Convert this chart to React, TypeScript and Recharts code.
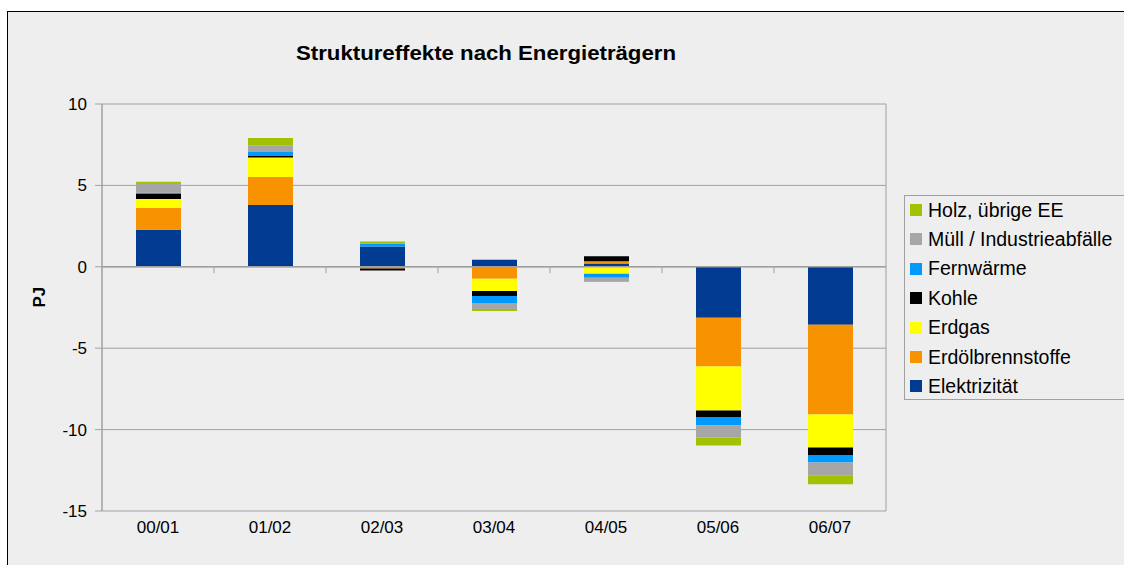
import { BarChart, Bar, XAxis, YAxis, CartesianGrid, ReferenceLine, Legend } from 'recharts';

const periods = ['00/01', '01/02', '02/03', '03/04', '04/05', '05/06', '06/07'];

const elektrizitaet = [2.27, 3.8, 1.25, 0.43, 0.2, -3.13, -3.56];
const erdoel = [1.35, 1.72, -0.1, -0.74, 0.14, -3.0, -5.52];
const erdgas = [0.55, 1.2, 0, -0.74, -0.42, -2.7, -2.02];
const kohle = [0.33, 0.08, -0.12, -0.31, 0.31, -0.43, -0.49];
const fernwaerme = [0.05, 0.25, 0.18, -0.43, -0.25, -0.47, -0.43];
const muell = [0.6, 0.41, 0, -0.37, -0.22, -0.75, -0.78];
const holz = [0.08, 0.45, 0.12, -0.12, -0.05, -0.49, -0.55];

const yTicks = [-15, -10, -5, 0, 5, 10];

const SERIES = [
  { key: 'Elektrizität', values: elektrizitaet, color: '#003a91' },
  { key: 'Erdölbrennstoffe', values: erdoel, color: '#f79200' },
  { key: 'Erdgas', values: erdgas, color: '#ffff00' },
  { key: 'Kohle', values: kohle, color: '#000000' },
  { key: 'Fernwärme', values: fernwaerme, color: '#0099ff' },
  { key: 'Müll / Industrieabfälle', values: muell, color: '#a6a6a6' },
  { key: 'Holz, übrige EE', values: holz, color: '#a3c100' },
];

const data = periods.map((p, i) => {
  const row: Record<string, string | number> = { name: p };
  SERIES.forEach((s) => { row[s.key] = s.values[i]; });
  return row;
});

const FONT = '"Liberation Sans", Arial, sans-serif';

const LegendBox = () => (
  <div style={{ width: 225, height: 205, border: '1px solid #a0a0a0', boxSizing: 'border-box', background: '#eeeeee', fontFamily: FONT, fontSize: 19.5, color: '#000' }}>
    {[...SERIES].reverse().map((s, i) => (
      <div key={s.key} style={{ position: 'absolute', left: 6, top: 15 + i * 29.4 - 11, height: 22, display: 'flex', alignItems: 'center', whiteSpace: 'nowrap' }}>
        <span style={{ width: 12, height: 12, background: s.color, display: 'inline-block', marginRight: 6 }} />
        <span>{s.key}</span>
      </div>
    ))}
  </div>
);

export default function App() {
  return (
    <div style={{ position: 'absolute', left: 7, top: 11, width: 1117, height: 554, border: '1px solid #000', borderRight: 'none', borderBottom: 'none', boxSizing: 'border-box', background: '#eeeeee', overflow: 'hidden' }}>
      <style>{'body{margin:0;overflow:hidden}'}</style>
      <div style={{ position: 'absolute', left: 278, width: 400, top: 30, textAlign: 'center', fontFamily: FONT, fontWeight: 'bold', fontSize: 20, transform: 'scaleX(1.11)', transformOrigin: '50% 50%' }}>
        Struktureffekte nach Energieträgern
      </div>
      <BarChart width={1116} height={553} data={data} stackOffset="sign" barSize={45}
        margin={{ top: 92, right: 238, left: 0, bottom: 24 }}>
        <CartesianGrid vertical stroke="#a0a0a0" strokeWidth={1}
          verticalCoordinatesGenerator={({ offset }: any) => [offset.left, offset.left + offset.width]} />
        <XAxis dataKey="name" axisLine={false} tickLine={false} tickSize={0} tickMargin={10} height={30}
          tick={{ fontSize: 17, fill: '#000', fontFamily: FONT }} interval={0} />
        <YAxis domain={[-15, 10]} ticks={yTicks} width={94} tickSize={7} tickMargin={8}
          axisLine={{ stroke: '#a0a0a0' }} tickLine={{ stroke: '#a0a0a0' }}
          tick={{ fontSize: 17, fill: '#000', fontFamily: FONT }}
          label={{ value: 'PJ', angle: -90, position: 'insideLeft', offset: 31, style: { fontWeight: 'bold', fontSize: 17, fill: '#000', fontFamily: FONT } }} />
        {SERIES.map((s) => (
          <Bar key={s.key} dataKey={s.key} stackId="a" fill={s.color} isAnimationActive={false} />
        ))}
        <ReferenceLine y={0} stroke="#a0a0a0" strokeWidth={1.5} />
        {periods.slice(0, -1).map((p) => (
          <ReferenceLine key={p} segment={[{ x: p, y: 0 }, { x: p, y: -0.4 }]} position="end" stroke="#a0a0a0" />
        ))}
        <Legend layout="vertical" align="center" verticalAlign="middle" content={<LegendBox />}
          wrapperStyle={{ position: 'absolute', left: 896, top: 183, width: 225, height: 205 }} />
      </BarChart>
    </div>
  );
}
